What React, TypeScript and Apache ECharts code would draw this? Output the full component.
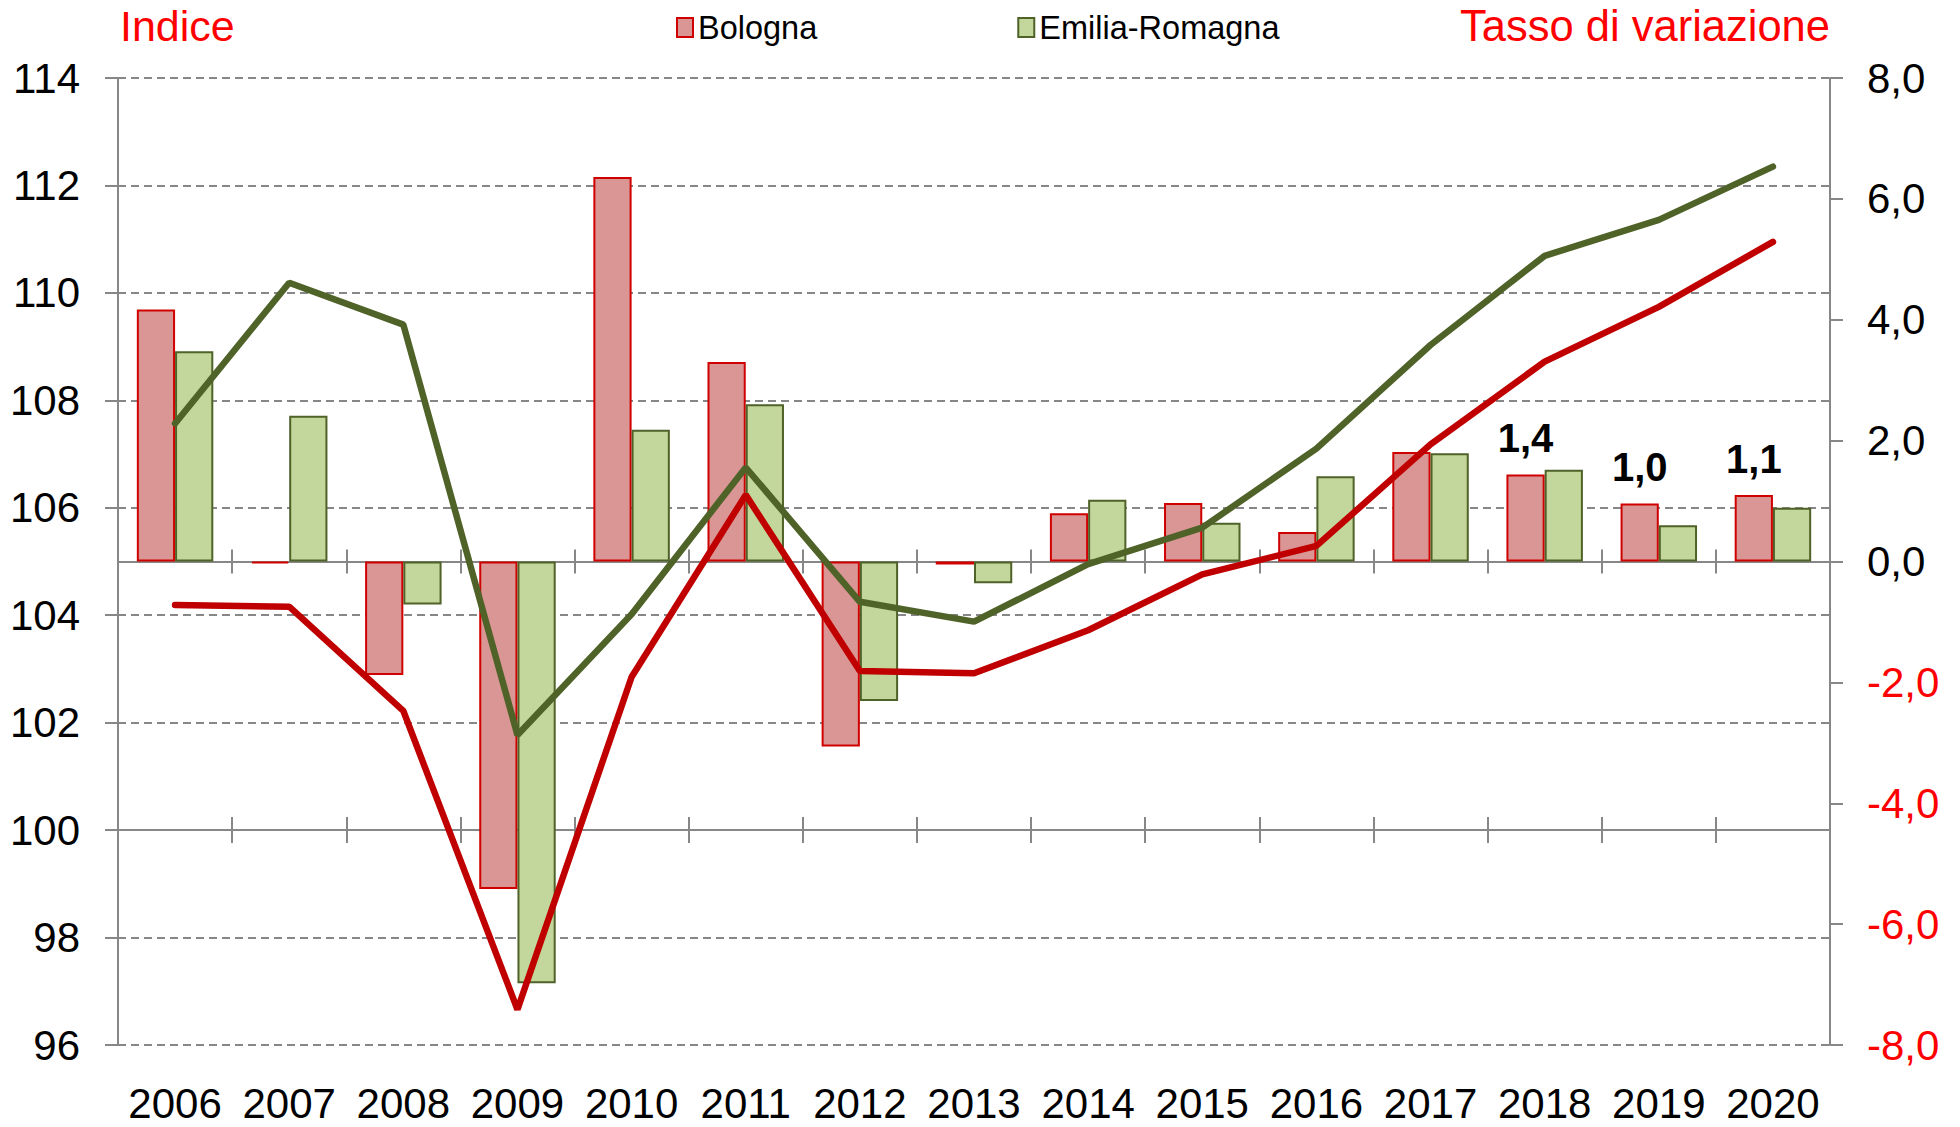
import React, { useEffect, useRef } from 'react';
import * as echarts from 'echarts';

// ---- data ----
const years = ['2006', '2007', '2008', '2009', '2010', '2011', '2012', '2013', '2014', '2015', '2016', '2017', '2018', '2019', '2020'];
// tasso di variazione (%) – right axis
const bolognaRate = [4.17, -0.03, -1.88, -5.42, 6.36, 3.3, -3.06, -0.05, 0.8, 0.97, 0.49, 1.81, 1.44, 0.96, 1.1];
const emiliaRate = [3.48, 2.41, -0.71, -6.98, 2.18, 2.6, -2.31, -0.36, 1.02, 0.64, 1.41, 1.79, 1.52, 0.6, 0.89];
// indice – left axis
const bolognaIndex = [104.19, 104.16, 102.22, 96.66, 102.85, 106.24, 102.96, 102.92, 103.72, 104.76, 105.29, 107.18, 108.72, 109.74, 110.95];
const emiliaIndex = [107.57, 110.19, 109.41, 101.77, 104.02, 106.75, 104.25, 103.88, 104.95, 105.63, 107.1, 109.03, 110.69, 111.36, 112.35];
const labelledYears = ['2018', '2019', '2020'];
const leftMin = 96, leftMax = 114, leftStep = 2;
const rightMin = -8, rightMax = 8, rightStep = 2;
const leftBaseline = 100;
const leftTitle = 'Indice';
const rightTitle = 'Tasso di variazione';
const legendNames = ['Bologna', 'Emilia-Romagna'];

// ---- layout / style ----
const W = 1960, H = 1127;
const G_LEFT = 118, G_RIGHT = 130, G_TOP = 78, G_BOTTOM = 82;
const FONT = '"Liberation Sans", Arial, Helvetica, sans-serif';
const AXIS = '#878787';
const RED_LINE = '#C00000';
const GREEN_LINE = '#4F6228';

const fmt = (v: number) => v.toFixed(1).replace('.', ',');

export default function App() {
  const ref = useRef<HTMLDivElement>(null);

  useEffect(() => {
    if (!ref.current) return;
    const chart = echarts.init(ref.current, undefined, { renderer: 'svg' });
    const gridH = H - G_TOP - G_BOTTOM;
    const off100 = -gridH * (leftBaseline - leftMin) / (leftMax - leftMin);

    const lineAxisBase = {
      type: 'category',
      data: years,
      gridIndex: 0,
      position: 'bottom',
      axisLabel: { show: false },
      splitLine: { show: false },
    };

    const option: any = {
      animation: false,
      backgroundColor: '#ffffff',
      textStyle: { fontFamily: FONT },
      title: [
        {
          text: leftTitle,
          left: 120,
          top: 4,
          padding: 0,
          textStyle: { color: '#FF0000', fontSize: 43, fontWeight: 'normal', fontFamily: FONT },
        },
        {
          text: rightTitle,
          right: W - 1830,
          top: 4,
          padding: 0,
          textStyle: { color: '#FF0000', fontSize: 43.5, fontWeight: 'normal', fontFamily: FONT },
        },
      ],
      legend: {
        data: legendNames,
        left: 676,
        top: 11,
        padding: 0,
        itemWidth: 16,
        itemHeight: 19,
        itemGap: 200,
        icon: 'rect',
        textStyle: { fontSize: 32.5, color: '#000', fontFamily: FONT },
      },
      grid: { left: G_LEFT, right: G_RIGHT, top: G_TOP, bottom: G_BOTTOM, containLabel: false },
      xAxis: [
        {
          type: 'category',
          data: years,
          gridIndex: 0,
          position: 'bottom',
          axisLine: { show: false, onZero: false },
          axisTick: { show: false },
          axisLabel: { show: true, interval: 0, fontSize: 42, color: '#000', margin: 37, fontFamily: FONT },
          splitLine: { show: false },
        },
        {
          ...lineAxisBase,
          axisLine: { show: true, onZero: true, onZeroAxisIndex: 1, lineStyle: { color: AXIS, width: 2 } },
          axisTick: { show: true, inside: false, length: 12, lineStyle: { color: AXIS, width: 2 } },
        },
        {
          ...lineAxisBase,
          axisLine: { show: true, onZero: true, onZeroAxisIndex: 1, lineStyle: { color: AXIS, width: 2 } },
          axisTick: { show: true, inside: true, length: 12, lineStyle: { color: AXIS, width: 2 } },
        },
        {
          ...lineAxisBase,
          offset: off100,
          axisLine: { show: true, onZero: false, lineStyle: { color: AXIS, width: 2 } },
          axisTick: { show: true, inside: false, length: 13, lineStyle: { color: AXIS, width: 2 } },
        },
        {
          ...lineAxisBase,
          offset: off100,
          axisLine: { show: true, onZero: false, lineStyle: { color: AXIS, width: 2 } },
          axisTick: { show: true, inside: true, length: 13, lineStyle: { color: AXIS, width: 2 } },
        },
      ],
      yAxis: [
        {
          type: 'value',
          position: 'left',
          min: leftMin,
          max: leftMax,
          interval: leftStep,
          axisLine: { show: true, onZero: false, lineStyle: { color: AXIS, width: 2 } },
          axisTick: { show: true, inside: false, length: 13, lineStyle: { color: AXIS, width: 2 } },
          axisLabel: { fontSize: 42, color: '#000', margin: 38, fontFamily: FONT },
          splitLine: { show: true, lineStyle: { color: AXIS, width: 2, type: [8, 5] } },
        },
        {
          type: 'value',
          position: 'right',
          min: rightMin,
          max: rightMax,
          interval: rightStep,
          axisLine: { show: true, onZero: false, lineStyle: { color: AXIS, width: 2 } },
          axisTick: { show: true, inside: false, length: 13, lineStyle: { color: AXIS, width: 2 } },
          axisLabel: {
            fontSize: 42,
            margin: 37,
            fontFamily: FONT,
            formatter: (v: number) => fmt(Number(v)),
            color: (v: any) => (parseFloat(v) < 0 ? '#FF0000' : '#000000'),
          },
          splitLine: { show: false },
        },
      ],
      series: [
        {
          name: legendNames[0],
          type: 'bar',
          xAxisIndex: 0,
          yAxisIndex: 1,
          data: bolognaRate,
          barGap: '0%',
          barCategoryGap: '33%',
          itemStyle: { color: '#D99694', borderColor: '#D00000', borderWidth: 2 },
          label: {
            show: true,
            position: 'top',
            distance: 16,
            fontSize: 40,
            fontWeight: 'bold',
            color: '#000',
            fontFamily: FONT,
            formatter: (p: any) => (labelledYears.includes(p.name) ? fmt(Math.round(p.value * 10) / 10) : ''),
          },
        },
        {
          name: legendNames[1],
          type: 'bar',
          xAxisIndex: 0,
          yAxisIndex: 1,
          data: emiliaRate,
          barGap: '0%',
          barCategoryGap: '33%',
          itemStyle: { color: '#C3D69B', borderColor: '#4F6228', borderWidth: 2 },
        },
        {
          name: 'Bologna (indice)',
          type: 'line',
          xAxisIndex: 0,
          yAxisIndex: 0,
          data: bolognaIndex,
          symbol: 'none',
          showSymbol: false,
          lineStyle: { color: RED_LINE, width: 6.5, cap: 'round' },
          itemStyle: { color: RED_LINE },
          z: 5,
        },
        {
          name: 'Emilia-Romagna (indice)',
          type: 'line',
          xAxisIndex: 0,
          yAxisIndex: 0,
          data: emiliaIndex,
          symbol: 'none',
          showSymbol: false,
          lineStyle: { color: GREEN_LINE, width: 6.5, cap: 'round' },
          itemStyle: { color: GREEN_LINE },
          z: 5,
        },
      ],
    };

    chart.setOption(option);
    return () => chart.dispose();
  }, []);

  return (
    <div
      ref={ref}
      style={{ position: 'fixed', left: 0, top: 0, width: W, height: H, background: '#fff' }}
    />
  );
}
